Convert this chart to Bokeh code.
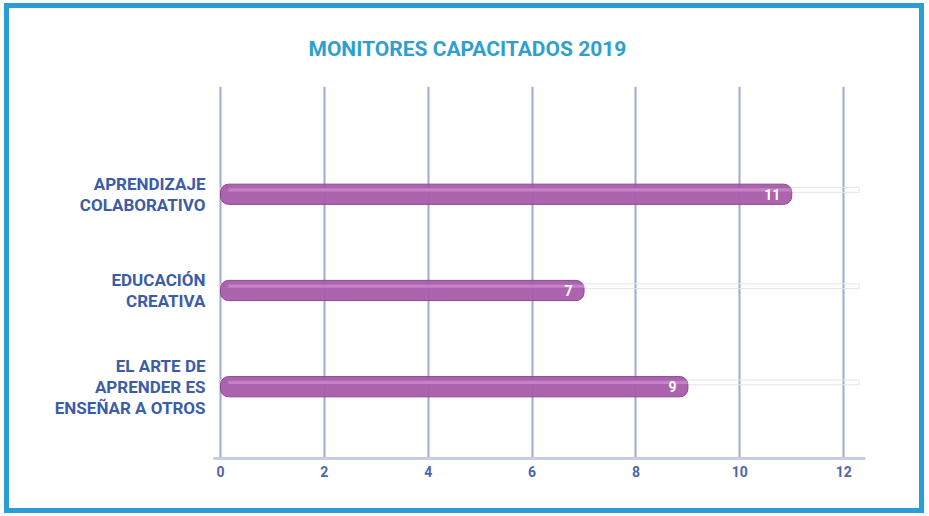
from bokeh.plotting import figure
from bokeh.models import Range1d, FixedTicker, ColumnDataSource, LabelSet
from bokeh.embed import file_html
from bokeh.resources import INLINE
from bokeh.core.properties import value

title_text = "MONITORES CAPACITADOS 2019"
categories = ["APRENDIZAJE\nCOLABORATIVO", "EDUCACIÓN\nCREATIVA",
              "EL ARTE DE\nAPRENDER ES\nENSEÑAR A OTROS"]
counts = [11, 7, 9]
x_ticks = [0, 2, 4, 6, 8, 10, 12]

FONT = "Roboto"

n = len(categories)
ypos = [n - i for i in range(n)]

src = ColumnDataSource(dict(
    y=ypos, v=counts,
    lab=[str(c) for c in counts],
    lx=[c - 0.22 for c in counts],
    hy=[y + 0.045 for y in ypos],
))

p = figure(width=920, height=510, output_backend="svg", toolbar_location=None,
           x_range=Range1d(-0.135, 12.42), y_range=Range1d(0.254, 4.12),
           min_border_left=204, min_border_right=64, min_border_top=77,
           min_border_bottom=60, title=title_text)
p.styles = {"border": "5px solid #2b9dd6", "box-sizing": "border-box",
            "margin": "3px 0 0 4px"}
p.outline_line_color = None
p.background_fill_color = "white"
p.border_fill_color = "white"

p.title.align = "left"
p.title.offset = 95
p.title.text_font = FONT
p.title.text_font_size = "21px"
p.title.text_font_style = "bold"
p.title.text_color = "#2e9fd0"
p.title.standoff = 52

# faint track lines
p.hbar(y="hy", left=0, right=12.3, height=0.05, source=src,
       fill_color=None, line_color="#e4e4ec", line_width=1)

# bars
p.hbar(y="y", left=0, right="v", height=0.21, source=src,
       fill_color="#a758a9", fill_alpha=0.93, line_color="#8e4591",
       line_width=1, border_radius=8)
p.hbar(y="hy", left=0.15, right="v", height=0.035, source=src,
       fill_color="#cf8fd0", fill_alpha=0.7, line_color=None)

labels = LabelSet(x="lx", y="y", text="lab", source=src, text_align="right",
                  text_baseline="middle", text_color="white",
                  text_font_size="14px", text_font_style="bold",
                  text_font=value(FONT))
p.add_layout(labels)

p.xgrid.ticker = FixedTicker(ticks=x_ticks)
p.xgrid.grid_line_color = "#9dabd0"
p.xgrid.grid_line_width = 2
p.ygrid.grid_line_color = None

p.xaxis.ticker = FixedTicker(ticks=x_ticks)
p.xaxis.axis_line_color = "#c5cde3"
p.xaxis.axis_line_width = 3
p.xaxis.major_tick_line_color = None
p.xaxis.minor_tick_line_color = None
p.xaxis.major_label_text_font = FONT
p.xaxis.major_label_text_font_size = "14px"
p.xaxis.major_label_text_font_style = "bold"
p.xaxis.major_label_text_color = "#4d66a8"
p.xaxis.major_label_standoff = 1

p.yaxis.ticker = FixedTicker(ticks=ypos)
p.yaxis.major_label_overrides = {y: c for y, c in zip(ypos, categories)}
p.yaxis.axis_line_color = None
p.yaxis.major_tick_line_color = None
p.yaxis.minor_tick_line_color = None
p.yaxis.major_label_text_font = FONT
p.yaxis.major_label_text_font_size = "17px"
p.yaxis.major_label_text_font_style = "bold"
p.yaxis.major_label_text_color = "#3b5ca8"
p.yaxis.major_label_text_line_height = 1.05
p.yaxis.major_label_text_align = "right"
p.yaxis.major_label_standoff = 2

open("out.html", "w").write(file_html(p, INLINE))
